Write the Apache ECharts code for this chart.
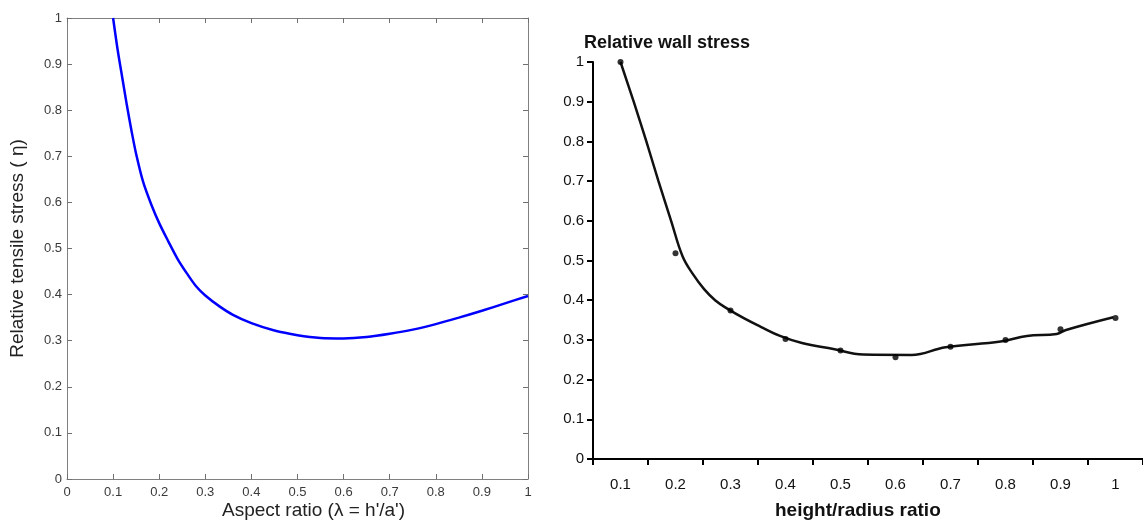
<!DOCTYPE html>
<html>
<head>
<meta charset="utf-8">
<script src="https://cdn.jsdelivr.net/npm/echarts@6/dist/echarts.min.js"></script>
<style>
  html, body { margin: 0; padding: 0; background: #ffffff; }
  #chart { width: 1143px; height: 525px; }
</style>
</head>
<body>
<div id="chart"></div>
<script>
// left panel: tensile stress vs aspect ratio
const aspectX = [0.1, 0.11, 0.12, 0.13, 0.14, 0.15, 0.165, 0.183, 0.2, 0.22, 0.24, 0.26, 0.28, 0.3, 0.33, 0.36, 0.4, 0.45, 0.5, 0.55, 0.6, 0.65, 0.7, 0.75, 0.8, 0.85, 0.9, 0.95, 1.0];
const tensileY = [1.0, 0.93, 0.87, 0.81, 0.755, 0.705, 0.645, 0.595, 0.555, 0.515, 0.477, 0.446, 0.418, 0.398, 0.375, 0.356, 0.338, 0.322, 0.312, 0.306, 0.305, 0.308, 0.315, 0.324, 0.336, 0.35, 0.365, 0.381, 0.397];

// right panel: measured points and the fitted line
const ratioLabels = ["0.1", "0.2", "0.3", "0.4", "0.5", "0.6", "0.7", "0.8", "0.9", "1"];
const ratioX = [0.1, 0.2, 0.3, 0.4, 0.5, 0.6, 0.7, 0.8, 0.9, 1.0];
const wallStress = [1.0, 0.518, 0.374, 0.302, 0.273, 0.256, 0.283, 0.3, 0.327, 0.355];
const fitX = [0.1, 0.124, 0.147, 0.169, 0.192, 0.213, 0.232, 0.252, 0.272, 0.295, 0.325, 0.355, 0.39, 0.43, 0.487, 0.541, 0.629, 0.691, 0.791, 0.839, 0.893, 0.91, 0.996];
const fitY = [1.0, 0.9, 0.8, 0.7, 0.6, 0.51, 0.465, 0.428, 0.4, 0.378, 0.354, 0.333, 0.31, 0.292, 0.277, 0.263, 0.262, 0.2815, 0.296, 0.31, 0.315, 0.325, 0.357];

const zip = (a, b) => a.map((v, i) => [v, b[i]]);

const chart = echarts.init(document.getElementById("chart"));

const font = "Arial, Liberation Sans, sans-serif";
const boxLine = { show: true, onZero: false, lineStyle: { color: "#808080", width: 1 } };
const boxTick = { show: true, inside: true, length: 5, lineStyle: { color: "#707070" } };
const leftLabel = { color: "#3a3a3a", fontSize: 13, fontFamily: font };
const rightLabel = { color: "#111", fontSize: 15, fontFamily: font };

chart.setOption({
  backgroundColor: "#ffffff",
  animation: false,
  title: [
    {
      text: "Relative wall stress",
      left: 579,
      top: 29,
      textStyle: { fontSize: 18, fontWeight: "bold", color: "#111", fontFamily: font },
    },
    {
      text: "height/radius ratio",
      left: 770,
      top: 496,
      textStyle: { fontSize: 19, fontWeight: "bold", color: "#111", fontFamily: font },
    },
    {
      text: "Aspect ratio (\u03bb = h'/a')",
      left: 217,
      top: 496,
      textStyle: { fontSize: 19, fontWeight: "normal", color: "#222", fontFamily: font },
    },
  ],
  grid: [
    { left: 67, top: 18, width: 461, height: 461 },
    { left: 593, top: 62, width: 550, height: 397 },
  ],
  xAxis: [
    {
      gridIndex: 0,
      type: "value",
      min: 0,
      max: 1,
      interval: 0.1,
      position: "bottom",
      axisLine: boxLine,
      axisTick: boxTick,
      splitLine: { show: false },
      axisLabel: { ...leftLabel, margin: 7, showMinLabel: true, showMaxLabel: true },
    },
    {
      gridIndex: 0,
      type: "value",
      min: 0,
      max: 1,
      interval: 0.1,
      position: "top",
      axisLine: boxLine,
      axisTick: boxTick,
      splitLine: { show: false },
      axisLabel: { show: false },
    },
    {
      gridIndex: 1,
      type: "category",
      data: ratioLabels,
      boundaryGap: true,
      axisLine: { show: true, onZero: false, lineStyle: { color: "#000", width: 2 } },
      axisTick: { show: true, length: 6, lineStyle: { color: "#000", width: 2 } },
      axisLabel: { ...rightLabel, margin: 18 },
      splitLine: { show: false },
    },
    {
      gridIndex: 1,
      type: "value",
      min: 0.05,
      max: 1.05,
      show: false,
    },
  ],
  yAxis: [
    {
      gridIndex: 0,
      type: "value",
      min: 0,
      max: 1,
      interval: 0.1,
      position: "left",
      axisLine: boxLine,
      axisTick: boxTick,
      splitLine: { show: false },
      axisLabel: { ...leftLabel, margin: 5 },
      name: "Relative tensile stress ( \u03b7)",
      nameLocation: "middle",
      nameGap: 40,
      nameTextStyle: { fontSize: 19, color: "#222", fontFamily: font },
    },
    {
      gridIndex: 0,
      type: "value",
      min: 0,
      max: 1,
      interval: 0.1,
      position: "right",
      axisLine: boxLine,
      axisTick: boxTick,
      splitLine: { show: false },
      axisLabel: { show: false },
    },
    {
      gridIndex: 1,
      type: "value",
      min: 0,
      max: 1,
      interval: 0.1,
      axisLine: { show: true, onZero: false, lineStyle: { color: "#000", width: 2 } },
      axisTick: { show: true, length: 6, lineStyle: { color: "#000", width: 2 } },
      axisLabel: { ...rightLabel, margin: 9 },
      splitLine: { show: false },
    },
  ],
  series: [
    {
      type: "line",
      xAxisIndex: 0,
      yAxisIndex: 0,
      data: zip(aspectX, tensileY),
      smooth: 0.3,
      showSymbol: false,
      lineStyle: { color: "#0000ff", width: 2.5 },
    },
    {
      type: "line",
      xAxisIndex: 3,
      yAxisIndex: 2,
      data: zip(fitX, fitY),
      smooth: 0.4,
      showSymbol: false,
      lineStyle: { color: "#111", width: 2.5 },
    },
    {
      type: "scatter",
      xAxisIndex: 3,
      yAxisIndex: 2,
      data: zip(ratioX, wallStress),
      symbol: "circle",
      symbolSize: 6,
      itemStyle: { color: "#000" },
      z: 5,
    },
  ],
});
</script>
</body>
</html>
